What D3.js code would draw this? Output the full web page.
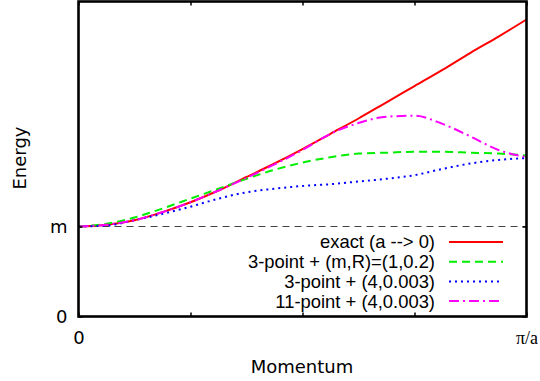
<!DOCTYPE html>
<html>
<head>
<meta charset="utf-8">
<script src="https://cdn.jsdelivr.net/npm/d3@7"></script>
<style>
  html, body { margin: 0; padding: 0; background: #fff; }
  svg { display: block; }
  .tick-label { font-family: "DejaVu Sans", sans-serif; font-size: 18px; fill: #000; }
  .legend-text { font-family: "Liberation Sans", Arial, sans-serif; font-size: 18.4px; fill: #000; }
</style>
</head>
<body>
<svg id="chart" width="540" height="381"></svg>
<script>
// Momentum samples: k * (pi/16) for k = 0..16, in units of 1/a
const momentum = d3.range(17).map(k => k * Math.PI / 16);

// Energies (units of m) at those momenta
const exactE   = [1.00, 1.02, 1.07, 1.16, 1.27, 1.40, 1.55, 1.70, 1.86, 2.03, 2.20, 2.38, 2.56, 2.74, 2.93, 3.11, 3.30];
const green3pt = [1.00, 1.03, 1.10, 1.20, 1.31, 1.42, 1.53, 1.63, 1.71, 1.77, 1.81, 1.82, 1.83, 1.83, 1.82, 1.81, 1.79];
const blue3pt  = [1.00, 1.01, 1.07, 1.14, 1.22, 1.31, 1.38, 1.42, 1.45, 1.47, 1.50, 1.53, 1.57, 1.64, 1.70, 1.74, 1.76];
const mag11pt  = [1.00, 1.02, 1.07, 1.16, 1.27, 1.40, 1.54, 1.69, 1.85, 2.03, 2.15, 2.22, 2.23, 2.14, 2.00, 1.85, 1.77];

const seriesNames  = ["exact (a --> 0)", "3-point + (m,R)=(1,0.2)", "3-point + (4,0.003)", "11-point + (4,0.003)"];
const seriesColors = ["#ff0000", "#00ee00", "#0000ff", "#ff00ff"];
const seriesDashes = [null, "8,5", "2,4", "10,4,2,4"];
const seriesValues = [exactE, green3pt, blue3pt, mag11pt];

const xTickValues = [0, Math.PI / 4, Math.PI / 2, 3 * Math.PI / 4, Math.PI];
const xTickLabels = ["0", "", "", "", "\u03c0/a"];
const yTickValues = [0, 1];
const yTickLabels = ["0", "m"];

const svg = d3.select("#chart");
const plotLeft = 78.5, plotRight = 526.5, plotTop = 1.5, plotBottom = 316.5;

const x = d3.scaleLinear().domain([0, Math.PI]).range([plotLeft, plotRight]);
const y = d3.scaleLinear().domain([0, 3.5]).range([plotBottom, plotTop]);

// dashed rest-mass line
svg.append("line")
  .attr("x1", x(0)).attr("x2", x(Math.PI))
  .attr("y1", y(1)).attr("y2", y(1))
  .attr("stroke", "#444").attr("stroke-width", 1)
  .attr("stroke-dasharray", "7,5");

// curves
const line = d3.line().x(d => x(d[0])).y(d => y(d[1])).curve(d3.curveMonotoneX);
seriesValues.forEach((vals, i) => {
  const pts = momentum.map((p, k) => [p, vals[k]]);
  svg.append("path")
    .datum(pts)
    .attr("d", line)
    .attr("fill", "none")
    .attr("stroke", seriesColors[i])
    .attr("stroke-width", 2)
    .attr("stroke-dasharray", seriesDashes[i]);
});

// axes with inward ticks
const fmtX = (d, i) => xTickLabels[i];
const fmtY = (d, i) => yTickLabels[i];

const gx = svg.append("g").attr("transform", `translate(0,${plotBottom})`)
  .call(d3.axisBottom(x).tickValues(xTickValues).tickFormat(fmtX).tickSizeInner(-4).tickSizeOuter(0).tickPadding(15));
const gxTop = svg.append("g").attr("transform", `translate(0,${plotTop})`)
  .call(d3.axisTop(x).tickValues(xTickValues).tickFormat("").tickSizeInner(-4).tickSizeOuter(0));
const gy = svg.append("g").attr("transform", `translate(${plotLeft},0)`)
  .call(d3.axisLeft(y).tickValues(yTickValues).tickFormat(fmtY).tickSizeInner(-4).tickSizeOuter(0).tickPadding(11));
const gyRight = svg.append("g").attr("transform", `translate(${plotRight},0)`)
  .call(d3.axisRight(y).tickValues(yTickValues).tickFormat("").tickSizeInner(-4).tickSizeOuter(0));

[gx, gxTop, gy, gyRight].forEach(g => {
  g.select(".domain").remove();
  g.selectAll(".tick line").attr("stroke", "#000").attr("stroke-width", 1.5);
  g.selectAll(".tick text").attr("class", "tick-label").attr("font-family", null).attr("font-size", null);
});
gx.selectAll(".tick text").filter((d, i) => i === 4)
  .style("font-family", "'Liberation Serif', 'DejaVu Serif', serif");

// frame
svg.append("rect")
  .attr("x", plotLeft).attr("y", plotTop)
  .attr("width", plotRight - plotLeft).attr("height", plotBottom - plotTop)
  .attr("fill", "none").attr("stroke", "#000").attr("stroke-width", 2.6);

// axis titles
svg.append("text").attr("class", "tick-label")
  .attr("transform", "translate(26,158) rotate(-90)")
  .attr("text-anchor", "middle")
  .text("Energy");
svg.append("text").attr("class", "tick-label")
  .attr("x", 302).attr("y", 373)
  .attr("text-anchor", "middle")
  .text("Momentum");

// key
const key = svg.append("g");
seriesNames.forEach((name, i) => {
  const cy = 242 + i * 19.7;
  key.append("text").attr("class", "legend-text")
    .attr("x", 435).attr("y", cy)
    .attr("dy", "0.35em")
    .attr("text-anchor", "end")
    .text(name);
  key.append("line")
    .attr("x1", 449).attr("x2", 503)
    .attr("y1", cy).attr("y2", cy)
    .attr("stroke", seriesColors[i]).attr("stroke-width", 2)
    .attr("stroke-dasharray", seriesDashes[i]);
});
</script>
</body>
</html>
